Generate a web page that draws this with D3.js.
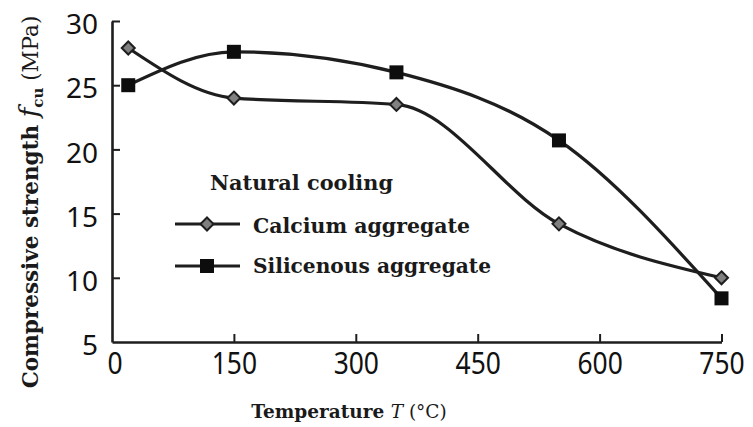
<!DOCTYPE html>
<html>
<head>
<meta charset="utf-8">
<script src="https://cdn.jsdelivr.net/npm/d3@7"></script>
<style>
  html, body { margin: 0; padding: 0; background: #fff; }
  svg { display: block; }
</style>
</head>
<body>
<svg id="chart" width="753" height="427"></svg>
<script>
// Temperatures (°C) at which specimens were tested
const temperatures = [20, 150, 350, 550, 750];
// Compressive strength f_cu (MPa) after natural cooling
const calciumValues = [27.9, 24.0, 23.5, 14.2, 10.0];
const siliceousValues = [25.0, 27.6, 26.0, 20.7, 8.4];
const xTicks = [0, 150, 300, 450, 600, 750];
const yTicks = [5, 10, 15, 20, 25, 30];
const seriesNames = ["Calcium aggregate", "Silicenous aggregate"];
const legendTitle = "Natural cooling";

const svg = d3.select("#chart");
const ink = "#1e1e1e";

const x = d3.scaleLinear().domain([0, 750]).range([112, 721.5]);
const y = d3.scaleLinear().domain([5, 30]).range([342, 21]);

// X axis (ticks point inward)
const xAxis = svg.append("g")
  .attr("transform", `translate(0,${y(5)})`)
  .call(d3.axisBottom(x).tickValues(xTicks).tickSize(-8).tickSizeOuter(0));
xAxis.select(".domain").attr("stroke", ink).attr("stroke-width", 2.6);
xAxis.selectAll(".tick line").attr("stroke", ink).attr("stroke-width", 2);
xAxis.selectAll(".tick").filter(d => d === 0).select("line").remove();
xAxis.selectAll(".tick text")
  .attr("fill", "#111")
  .attr("font-family", "'Noto Sans', sans-serif")
  .attr("font-size", 30)
  .attr("dy", "0.36em")
  .attr("y", 21)
  .attr("transform", "scale(0.88,1)")
  .attr("x", d => d === 0 ? 3 : 0);

// Y axis (ticks point inward)
const yAxis = svg.append("g")
  .attr("transform", `translate(${x(0)},0)`)
  .call(d3.axisLeft(y).tickValues(yTicks).tickSize(-8).tickSizeOuter(0));
yAxis.select(".domain").attr("stroke", ink).attr("stroke-width", 2.6);
yAxis.selectAll(".tick line").attr("stroke", ink).attr("stroke-width", 2);
yAxis.selectAll(".tick").filter(d => d === 5).select("line").remove();
yAxis.selectAll(".tick text")
  .attr("fill", "#111")
  .attr("font-family", "'Noto Sans', sans-serif")
  .attr("font-size", 28)
  .attr("dy", "0.45em")
  .attr("x", -14);

// Curves
const line = (vals) => d3.line()
  .x((d, i) => x(temperatures[i]))
  .y(d => y(d))
  .curve(d3.curveMonotoneX)(vals);

svg.append("path").attr("d", line(siliceousValues))
  .attr("fill", "none").attr("stroke", ink).attr("stroke-width", 3.2).attr("stroke-linejoin", "round");
svg.append("path").attr("d", line(calciumValues))
  .attr("fill", "none").attr("stroke", ink).attr("stroke-width", 3.2).attr("stroke-linejoin", "round");

const diamond = (cx, cy, r) => `M${cx},${cy - r}L${cx + r},${cy}L${cx},${cy + r}L${cx - r},${cy}Z`;

// Markers
svg.append("g").selectAll("rect")
  .data(siliceousValues)
  .join("rect")
  .attr("x", (d, i) => x(temperatures[i]) - 7)
  .attr("y", d => y(d) - 7)
  .attr("width", 14).attr("height", 14)
  .attr("fill", "#0d0d0d");

svg.append("g").selectAll("path")
  .data(calciumValues)
  .join("path")
  .attr("d", (d, i) => diamond(x(temperatures[i]), y(d), 6.5))
  .attr("fill", "#808080").attr("stroke", ink).attr("stroke-width", 2);

// Legend
const serif = "'DejaVu Serif', serif";
svg.append("text")
  .attr("x", 210).attr("y", 190)
  .attr("font-family", serif).attr("font-weight", "bold").attr("font-size", 19.5)
  .attr("fill", "#1a1a1a")
  .attr("textLength", 183).attr("lengthAdjust", "spacingAndGlyphs")
  .text(legendTitle);

const legendRows = [
  { name: seriesNames[0], ly: 224, ty: 233, width: 217, marker: "diamond" },
  { name: seriesNames[1], ly: 266, ty: 273, width: 238, marker: "square" }
];
legendRows.forEach(r => {
  svg.append("line").attr("x1", 175).attr("x2", 240).attr("y1", r.ly).attr("y2", r.ly)
    .attr("stroke", ink).attr("stroke-width", 3.2);
  if (r.marker === "diamond") {
    svg.append("path").attr("d", diamond(207, r.ly, 6.5))
      .attr("fill", "#808080").attr("stroke", ink).attr("stroke-width", 2);
  } else {
    svg.append("rect").attr("x", 200).attr("y", r.ly - 7).attr("width", 14).attr("height", 14)
      .attr("fill", "#0d0d0d");
  }
  svg.append("text")
    .attr("x", 253).attr("y", r.ty)
    .attr("font-family", serif).attr("font-weight", "bold").attr("font-size", 19.5)
    .attr("fill", "#1a1a1a")
    .attr("textLength", r.width).attr("lengthAdjust", "spacingAndGlyphs")
    .text(r.name);
});

// X axis title
const xt = svg.append("text")
  .attr("x", 349).attr("y", 418)
  .attr("text-anchor", "middle")
  .attr("font-family", serif).attr("font-size", 18.5).attr("fill", "#1a1a1a");
xt.append("tspan").attr("font-weight", "bold").text("Temperature ");
xt.append("tspan").attr("font-style", "italic").text("T");
xt.append("tspan").text(" (°C)");

// Y axis title
const yt = svg.append("text")
  .attr("transform", "translate(38,202) rotate(-90)")
  .attr("text-anchor", "middle")
  .attr("font-family", serif).attr("font-size", 21.5).attr("fill", "#1a1a1a");
yt.append("tspan").attr("font-weight", "bold").text("Compressive strength ");
yt.append("tspan").attr("font-style", "italic").attr("font-size", 26).text("f");
yt.append("tspan").attr("font-weight", "bold").attr("font-size", 15).attr("dy", 5).text("cu");
yt.append("tspan").attr("dy", -5).text(" (MPa)");
</script>
</body>
</html>
